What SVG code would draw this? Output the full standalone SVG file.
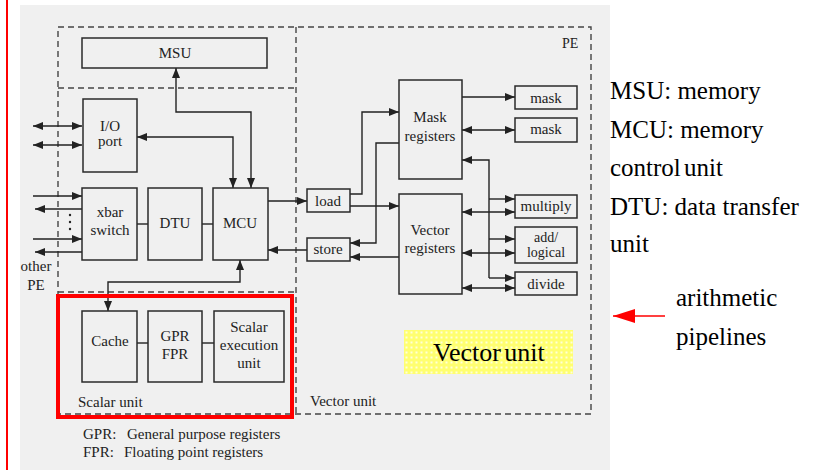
<svg xmlns="http://www.w3.org/2000/svg" width="822" height="470" viewBox="0 0 822 470" font-family="'Liberation Serif', 'DejaVu Serif', 'Times New Roman', serif">
<style>
.box{fill:none;stroke:#2a2a2a;stroke-width:1.5}
.dash{fill:none;stroke:#444;stroke-width:1.4;stroke-dasharray:6,4}
.ln{fill:none;stroke:#222;stroke-width:1.4}
text{font-family:'Liberation Serif','DejaVu Serif','Times New Roman',serif}
.t{font-size:15px;fill:#222;text-anchor:middle}
.tl{font-size:15px;fill:#222}
.big{font-size:25px;fill:#000}
</style>
<defs>
<marker id="ah" viewBox="0 0 10 8" refX="10" refY="4" markerWidth="10" markerHeight="8" markerUnits="userSpaceOnUse" orient="auto-start-reverse">
<path d="M0,0 L10,4 L0,8 Z" fill="#222"/>
</marker>
<marker id="rah" viewBox="0 0 22 14" refX="22" refY="7" markerWidth="22" markerHeight="14" markerUnits="userSpaceOnUse" orient="auto">
<path d="M0,0 L22,7 L0,14 Z" fill="#ff0000"/>
</marker>
<pattern id="yel" width="5" height="5" patternUnits="userSpaceOnUse" x="404" y="330">
<rect width="5" height="5" fill="#ffff70"/>
<rect x="1.5" y="1.5" width="2" height="2" fill="#ffffd8"/>
</pattern>
</defs>
<rect width="822" height="470" fill="#ffffff"/>
<rect x="20" y="5" width="590" height="465" fill="#f0f0f0"/>
<line x1="7" y1="0" x2="7" y2="470" stroke="#ff0000" stroke-width="2"/>

<g id="regions">
<rect class="dash" x="58" y="27" width="533" height="387"/>
<line class="dash" x1="296" y1="27" x2="296" y2="414"/>
<line class="dash" x1="58" y1="88" x2="296" y2="88"/>
<line class="dash" x1="58" y1="292" x2="296" y2="292"/>
<text class="tl" x="562" y="48" style="font-size:14px">PE</text>
<text class="tl" x="78" y="407">Scalar unit</text>
<text class="tl" x="310" y="406">Vector unit</text>
</g>

<g id="connectors">
<path class="ln" d="M176,68 V112 H251 V188" marker-start="url(#ah)" marker-end="url(#ah)"/>
<path class="ln" d="M137,137 H233 V188" marker-start="url(#ah)" marker-end="url(#ah)"/>
<line class="ln" x1="33" y1="126" x2="82" y2="126" marker-start="url(#ah)" marker-end="url(#ah)"/>
<line class="ln" x1="33" y1="145" x2="82" y2="145" marker-start="url(#ah)" marker-end="url(#ah)"/>
<line class="ln" x1="33" y1="196" x2="82" y2="196" marker-end="url(#ah)"/>
<line class="ln" x1="82" y1="209" x2="35" y2="209" marker-end="url(#ah)"/>
<line class="ln" x1="33" y1="239" x2="82" y2="239" marker-end="url(#ah)"/>
<line class="ln" x1="82" y1="252" x2="35" y2="252" marker-end="url(#ah)"/>
<circle cx="70" cy="215" r="1.2" fill="#222"/>
<circle cx="70" cy="222" r="1.2" fill="#222"/>
<circle cx="70" cy="229" r="1.2" fill="#222"/>
<line class="ln" x1="137" y1="224" x2="148" y2="224"/>
<line class="ln" x1="202" y1="224" x2="213" y2="224"/>
<line class="ln" x1="268" y1="201" x2="307" y2="201" marker-end="url(#ah)"/>
<line class="ln" x1="307" y1="250" x2="268" y2="250" marker-end="url(#ah)"/>
<path class="ln" d="M350,194 H362 V112 H399" marker-end="url(#ah)"/>
<line class="ln" x1="350" y1="206" x2="399" y2="206" marker-end="url(#ah)"/>
<path class="ln" d="M399,143 H376 V243 H350" marker-end="url(#ah)"/>
<line class="ln" x1="399" y1="257" x2="350" y2="257" marker-end="url(#ah)"/>
<line class="ln" x1="462" y1="97" x2="515" y2="97" marker-end="url(#ah)"/>
<line class="ln" x1="462" y1="130" x2="515" y2="130" marker-start="url(#ah)" marker-end="url(#ah)"/>
<path class="ln" d="M489,278 V160 H462" marker-end="url(#ah)"/>
<line class="ln" x1="489" y1="199" x2="515" y2="199" marker-end="url(#ah)"/>
<line class="ln" x1="489" y1="239" x2="515" y2="239" marker-end="url(#ah)"/>
<line class="ln" x1="489" y1="278" x2="515" y2="278" marker-end="url(#ah)"/>
<line class="ln" x1="462" y1="212" x2="515" y2="212" marker-start="url(#ah)" marker-end="url(#ah)"/>
<line class="ln" x1="462" y1="253" x2="515" y2="253" marker-start="url(#ah)" marker-end="url(#ah)"/>
<line class="ln" x1="462" y1="288" x2="515" y2="288" marker-start="url(#ah)" marker-end="url(#ah)"/>
<path class="ln" d="M108,311 V282 H240 V260" marker-start="url(#ah)" marker-end="url(#ah)"/>
<line class="ln" x1="137" y1="343" x2="148" y2="343"/>
<line class="ln" x1="202" y1="343" x2="214" y2="343"/>
</g>

<g id="msu"><rect class="box" x="82" y="38" width="185" height="30"/><text class="t" x="175" y="58">MSU</text></g>
<g id="io"><rect class="box" x="83" y="99" width="54" height="73"/><text class="t" x="110" y="131">I/O</text><text class="t" x="110" y="146">port</text></g>
<g id="xbar"><rect class="box" x="82" y="188" width="55" height="72"/><text class="t" x="110" y="217">xbar</text><text class="t" x="110" y="235">switch</text></g>
<g id="dtu"><rect class="box" x="148" y="188" width="54" height="72"/><text class="t" x="175" y="228">DTU</text></g>
<g id="mcu"><rect class="box" x="213" y="188" width="55" height="72"/><text class="t" x="240" y="228">MCU</text></g>
<g id="otherpe"><text class="t" x="36" y="271">other</text><text class="t" x="36" y="290">PE</text></g>
<g id="load"><rect class="box" x="307" y="189" width="43" height="23"/><text class="t" x="328" y="206">load</text></g>
<g id="store"><rect class="box" x="307" y="238" width="43" height="23"/><text class="t" x="328" y="254">store</text></g>
<g id="maskreg"><rect class="box" x="399" y="80" width="63" height="99"/><text class="t" x="430" y="122">Mask</text><text class="t" x="430" y="141">registers</text></g>
<g id="vecreg"><rect class="box" x="399" y="194" width="63" height="100"/><text class="t" x="430" y="235">Vector</text><text class="t" x="430" y="253">registers</text></g>
<g id="mask1"><rect class="box" x="515" y="86" width="62" height="23"/><text class="t" x="546" y="103">mask</text></g>
<g id="mask2"><rect class="box" x="515" y="118" width="62" height="24"/><text class="t" x="546" y="134">mask</text></g>
<g id="multiply"><rect class="box" x="515" y="195" width="62" height="23"/><text class="t" x="546" y="211">multiply</text></g>
<g id="addlogical"><rect class="box" x="515" y="227" width="62" height="36"/><text class="t" x="546" y="242" style="font-size:14px">add/</text><text class="t" x="546" y="257" style="font-size:14px">logical</text></g>
<g id="divide"><rect class="box" x="515" y="272" width="62" height="23"/><text class="t" x="546" y="289">divide</text></g>
<g id="cache"><rect class="box" x="82" y="311" width="55" height="71"/><text class="t" x="110" y="346">Cache</text></g>
<g id="gprfpr"><rect class="box" x="148" y="311" width="54" height="71"/><text class="t" x="175" y="341">GPR</text><text class="t" x="175" y="359">FPR</text></g>
<g id="scalarexec"><rect class="box" x="214" y="311" width="70" height="71"/><text class="t" x="249" y="332">Scalar</text><text class="t" x="249" y="350">execution</text><text class="t" x="249" y="368">unit</text></g>

<g id="legend">
<text class="tl" x="83" y="439">GPR:</text><text class="tl" x="127" y="439">General purpose registers</text>
<text class="tl" x="83" y="457">FPR:</text><text class="tl" x="124" y="457">Floating point registers</text>
</g>

<g id="highlight">
<rect x="58" y="296" width="234" height="121" fill="none" stroke="#ff0000" stroke-width="4"/>
</g>

<g id="vectorlabel">
<rect x="404" y="330" width="169" height="44" fill="url(#yel)"/>
<text class="big" x="433" y="361" style="font-size:26px;word-spacing:-3px">Vector unit</text>
</g>

<g id="notes">
<text class="big" x="610" y="99">MSU: memory</text>
<text class="big" x="610" y="138">MCU: memory</text>
<text class="big" x="610" y="176" style="word-spacing:-3px">control unit</text>
<text class="big" x="610" y="215">DTU: data transfer</text>
<text class="big" x="610" y="252">unit</text>
<text class="big" x="676" y="306">arithmetic</text>
<text class="big" x="676" y="345">pipelines</text>
<line x1="665" y1="316" x2="613" y2="316" stroke="#ff0000" stroke-width="1.5" marker-end="url(#rah)"/>
</g>
</svg>
